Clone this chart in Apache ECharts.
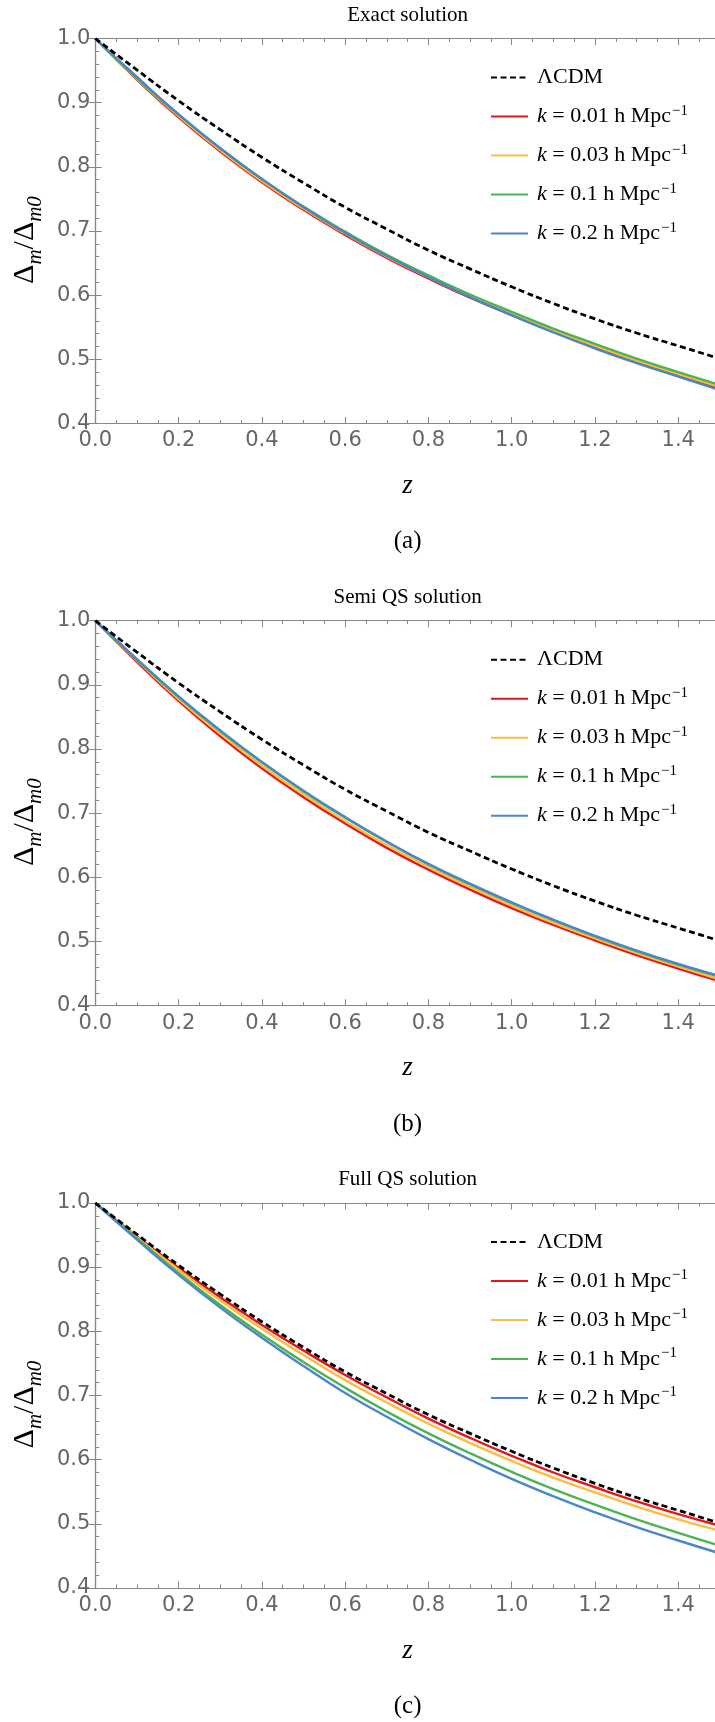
<!DOCTYPE html>
<html><head><meta charset="utf-8">
<script src="https://cdn.jsdelivr.net/npm/echarts@6/dist/echarts.min.js"></script>
<style>html,body{margin:0;padding:0;background:#fff}#c{width:715px;height:1722px}</style>
</head><body><div id="c"></div>
<script>
// ---- data ----
const zValues = [0, 0.1, 0.2, 0.3, 0.4, 0.5, 0.6, 0.7, 0.8, 0.9, 1.0, 1.1, 1.2, 1.3, 1.4, 1.5];
const lcdm = [1.000, 0.951, 0.903, 0.858, 0.815, 0.775, 0.737, 0.703, 0.670, 0.641, 0.613, 0.587, 0.563, 0.541, 0.521, 0.501];

const exactK001 = [1, 0.936, 0.877, 0.824, 0.776, 0.733, 0.694, 0.658, 0.626, 0.596, 0.569, 0.543, 0.519, 0.496, 0.475, 0.455];
const exactK003 = [1, 0.937, 0.879, 0.826, 0.778, 0.735, 0.696, 0.660, 0.628, 0.598, 0.571, 0.545, 0.521, 0.498, 0.477, 0.457];
const exactK01  = [1, 0.938, 0.881, 0.829, 0.781, 0.738, 0.699, 0.663, 0.631, 0.601, 0.574, 0.548, 0.524, 0.501, 0.480, 0.460];
const exactK02  = [1, 0.940, 0.882, 0.829, 0.781, 0.737, 0.697, 0.661, 0.628, 0.597, 0.569, 0.542, 0.517, 0.494, 0.473, 0.452];

const semiK001 = [1, 0.936, 0.875, 0.820, 0.770, 0.725, 0.684, 0.646, 0.612, 0.581, 0.552, 0.526, 0.502, 0.479, 0.458, 0.438];
const semiK003 = [1, 0.938, 0.878, 0.824, 0.774, 0.729, 0.688, 0.650, 0.616, 0.585, 0.556, 0.529, 0.505, 0.482, 0.461, 0.441];
const semiK01  = [1, 0.939, 0.881, 0.828, 0.779, 0.734, 0.693, 0.655, 0.620, 0.589, 0.560, 0.533, 0.508, 0.485, 0.464, 0.445];
const semiK02  = [1, 0.940, 0.882, 0.829, 0.780, 0.735, 0.694, 0.656, 0.621, 0.590, 0.561, 0.534, 0.509, 0.486, 0.465, 0.446];

const fullK001 = [1, 0.948, 0.899, 0.853, 0.810, 0.770, 0.732, 0.697, 0.664, 0.634, 0.606, 0.580, 0.557, 0.535, 0.515, 0.497];
const fullK003 = [1, 0.947, 0.896, 0.848, 0.804, 0.763, 0.724, 0.689, 0.656, 0.626, 0.598, 0.572, 0.549, 0.527, 0.507, 0.489];
const fullK01  = [1, 0.945, 0.891, 0.841, 0.795, 0.752, 0.712, 0.675, 0.641, 0.610, 0.581, 0.554, 0.530, 0.507, 0.486, 0.466];
const fullK02  = [1, 0.943, 0.888, 0.837, 0.790, 0.746, 0.704, 0.667, 0.632, 0.600, 0.570, 0.543, 0.518, 0.495, 0.474, 0.454];

const panelTitles = ['Exact solution', 'Semi QS solution', 'Full QS solution'];
const panelLetters = ['(a)', '(b)', '(c)'];
const seriesNames = ['ΛCDM', 'k001', 'k003', 'k01', 'k02'];
const kLabels = ['0.01', '0.03', '0.1', '0.2'];
const panelData = [
  [exactK001, exactK003, exactK01, exactK02],
  [semiK001, semiK003, semiK01, semiK02],
  [fullK001, fullK003, fullK01, fullK02]
];

// ---- styling / layout ----
const colors = ['#e8141c', '#fbbd3c', '#4cb452', '#4a86c8'];
const tops = [38.5, 620.7, 1203];
const plotH = 385;
const leftPx = 95.3;
const pxPerUnit = 416.4;
const xMax = 1.6;
const gridW = xMax * pxPerUnit;
const visW = 1.5 * pxPerUnit;
const cx = leftPx + visW / 2;
const axisGray = '#888';
const labelGray = '#666';
const serif = '"Liberation Serif", "Times New Roman", serif';
const sans = '"DejaVu Sans", sans-serif';

const grids = [], xAxes = [], yAxes = [], series = [], legends = [], graphics = [];
const pair = arr => zValues.map((z, i) => [z, arr[i]]);
const noSplit = { splitLine: { show: false }, minorTick: { show: false }, minorSplitLine: { show: false } };

function addGrid(top, width) {
  grids.push({ left: leftPx, top: top, width: width, height: plotH, containLabel: false, outerBoundsMode: 'none' });
  return grids.length - 1;
}
function xAx(g, pos, interval, len, lineShow, labelShow, max) {
  xAxes.push(Object.assign({
    type: 'value', gridIndex: g, position: pos, min: 0, max: max, interval: interval,
    axisLine: { show: lineShow, lineStyle: { color: axisGray, width: 1.2 } },
    axisTick: { show: len > 0, inside: true, length: len, lineStyle: { color: axisGray, width: 1 } },
    axisLabel: labelShow ? { show: true, margin: 7, color: labelGray, fontFamily: sans, fontSize: 21,
      formatter: v => v.toFixed(1) } : { show: false }
  }, noSplit));
  return xAxes.length - 1;
}
function yAx(g, pos, interval, len, lineShow, extra) {
  yAxes.push(Object.assign({
    type: 'value', gridIndex: g, position: pos, min: 0.4, max: 1.0, interval: interval,
    axisLine: { show: lineShow, lineStyle: { color: axisGray, width: 1.2 } },
    axisTick: { show: true, inside: true, length: len, lineStyle: { color: axisGray, width: 1 } },
    axisLabel: { show: false }
  }, noSplit, extra || {}));
  return yAxes.length - 1;
}

tops.forEach((top, p) => {
  // minor ticks (drawn first, underneath)
  const gm = addGrid(top, gridW);
  xAx(gm, 'bottom', 0.05, 3.5, false, false, xMax);
  xAx(gm, 'top', 0.05, 3.5, false, false, xMax);
  yAx(gm, 'left', 0.02, 4, false);
  const gr = addGrid(top, visW);
  xAxes.push({ type: 'value', gridIndex: gr, min: 0, max: 1.5, show: false });
  yAx(gr, 'right', 0.1, 6.5, true);

  // main grid
  const g = addGrid(top, gridW);
  const xi = xAx(g, 'bottom', 0.2, 6.5, true, true, xMax);
  xAx(g, 'top', 0.2, 6.5, true, false, xMax);
  const yi = yAx(g, 'left', 0.1, 6.5, true, {
    axisLabel: { show: true, margin: 5, color: labelGray, fontFamily: sans, fontSize: 21,
      formatter: v => v.toFixed(1) },
    name: '{n|Δ}{s|m}{n|/Δ}{s|m0}', nameLocation: 'middle', nameRotate: 90, nameGap: 50,
    nameTextStyle: {
      color: '#000', padding: [0, 18, 0, 0],
      rich: {
        n: { fontFamily: serif, fontSize: 30, color: '#000', lineHeight: 34, verticalAlign: 'bottom' },
        s: { fontFamily: serif, fontStyle: 'italic', fontSize: 21, color: '#000', lineHeight: 34, verticalAlign: 'bottom', padding: [0, 0, -6, 0] }
      }
    }
  });

  const data = panelData[p];
  data.forEach((arr, k) => {
    series.push({
      name: seriesNames[k + 1], type: 'line', xAxisIndex: xi, yAxisIndex: yi,
      data: pair(arr), showSymbol: false, symbol: 'none', smooth: true,
      lineStyle: { color: colors[k], width: 2.4 }, itemStyle: { color: colors[k] },
      emphasis: { disabled: true }, animation: false
    });
  });
  series.push({
    name: seriesNames[0], type: 'line', xAxisIndex: xi, yAxisIndex: yi,
    data: pair(lcdm), showSymbol: false, symbol: 'none', smooth: true,
    lineStyle: { color: '#000', width: 2.8, type: [6, 3.5] }, itemStyle: { color: '#000' },
    emphasis: { disabled: true }, animation: false
  });

  legends.push({
    orient: 'vertical', left: 490, top: top + 39 - 13, padding: 0,
    itemWidth: 37, itemHeight: 14, itemGap: 13,
    data: seriesNames, selectedMode: false,
    itemStyle: { color: 'rgba(0,0,0,0)', borderColor: 'rgba(0,0,0,0)', borderWidth: 0 },
    textStyle: {
      fontFamily: serif, fontSize: 22, color: '#000', lineHeight: 26, padding: [0, 0, 0, 4],
      rich: {
        i: { fontFamily: serif, fontStyle: 'italic', fontSize: 22, color: '#000', lineHeight: 26 },
        r: { fontFamily: serif, fontSize: 22, color: '#000', lineHeight: 26 },
        s: { fontFamily: serif, fontSize: 15, color: '#000', lineHeight: 26, verticalAlign: 'top', padding: [0, 0, 6, 1] }
      }
    },
    formatter: name => {
      const idx = seriesNames.indexOf(name);
      if (idx === 0) return '{r|ΛCDM}';
      return '{i|k}{r| = ' + kLabels[idx - 1] + ' h Mpc}{s|−1}';
    }
  });

  graphics.push({ type: 'text', x: cx, y: top - 23.5,
    style: { text: panelTitles[p], font: '21px ' + serif, fill: '#000', align: 'center', verticalAlign: 'middle', textAlign: 'center', textVerticalAlign: 'middle' } });
  graphics.push({ type: 'text', x: cx, y: top + plotH + 62.7,
    style: { text: 'z', font: 'italic 27px ' + serif, fill: '#000', align: 'center', verticalAlign: 'middle', textAlign: 'center', textVerticalAlign: 'middle' } });
  graphics.push({ type: 'text', x: cx, y: top + plotH + 118.3,
    style: { text: panelLetters[p], font: '25px ' + serif, fill: '#000', align: 'center', verticalAlign: 'middle', textAlign: 'center', textVerticalAlign: 'middle' } });
});

const chart = echarts.init(document.getElementById('c'), null, { renderer: 'canvas' });
chart.setOption({
  animation: false,
  backgroundColor: '#fff',
  grid: grids, xAxis: xAxes, yAxis: yAxes, series: series, legend: legends,
  graphic: { elements: graphics }
});
</script>
</body></html>
